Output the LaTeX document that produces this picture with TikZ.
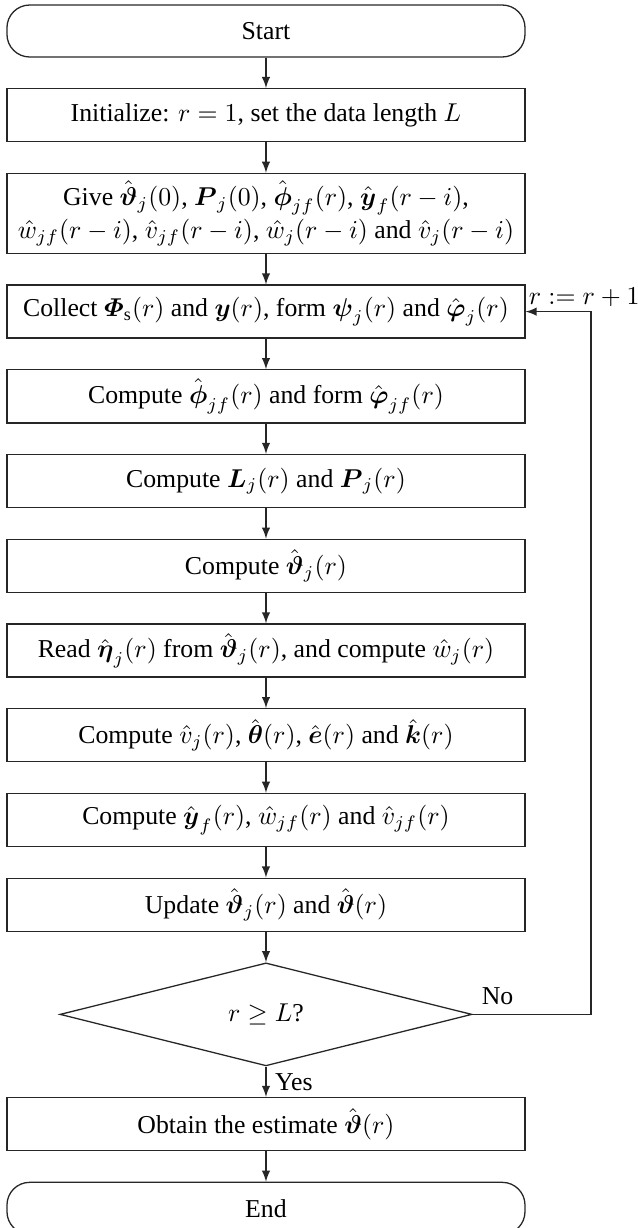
\documentclass[tikz,border=0pt]{standalone}
\usepackage{amsmath,amssymb}
\usepackage{fontspec}
\setmainfont{Liberation Serif}
\usetikzlibrary{shapes,shapes.geometric,arrows,positioning}

\begin{document}
\begin{tikzpicture}[
    node distance=0.415cm,
    line width=0.5pt,
    terminal/.style={rectangle, rounded corners=0.31cm, draw=black!85, minimum width=7.066cm, minimum height=0.709cm, inner sep=2pt},
    process/.style={rectangle, draw=black!85, minimum width=7.066cm, minimum height=0.723cm, inner sep=2pt, align=center},
    decision/.style={diamond, draw=black!85, minimum width=5.62cm, minimum height=1.405cm, inner sep=0pt},
    flow/.style={-latex, draw=black!85}
]
    \useasboundingbox (0,0) rectangle (8.689,-16.75);

    % Main chain of steps
    \node[terminal] (start) at (3.628,-0.423) {Start};
    \node[process, below=of start] (init) {Initialize: $r=1$, set the data length $L$};
    \node[process, below=of init, minimum height=1.091cm, inner ysep=1pt] (give) {
        Give $\hat{\boldsymbol{\vartheta}}_j(0)$, $\boldsymbol{P}_j(0)$, $\hat{\boldsymbol{\phi}}_{jf}(r)$, $\hat{\boldsymbol{y}}_f(r-i)$,\\[1pt]
        $\hat{w}_{jf}(r-i)$, $\hat{v}_{jf}(r-i)$, $\hat{w}_j(r-i)$ and $\hat{v}_j(r-i)$
    };
    \node[process, below=of give] (collect) {Collect $\boldsymbol{\varPhi}_{\mathrm{s}}(r)$ and $\boldsymbol{y}(r)$, form $\boldsymbol{\psi}_j(r)$ and $\hat{\boldsymbol{\varphi}}_j(r)$};
    \node[process, below=of collect] (phi) {Compute $\hat{\boldsymbol{\phi}}_{jf}(r)$ and form $\hat{\boldsymbol{\varphi}}_{jf}(r)$};
    \node[process, below=of phi] (gain) {Compute $\boldsymbol{L}_j(r)$ and $\boldsymbol{P}_j(r)$};
    \node[process, below=of gain] (theta) {Compute $\hat{\boldsymbol{\vartheta}}_j(r)$};
    \node[process, below=of theta] (read) {Read $\hat{\boldsymbol{\eta}}_j(r)$ from $\hat{\boldsymbol{\vartheta}}_j(r)$, and compute $\hat{w}_j(r)$};
    \node[process, below=of read] (noise) {Compute $\hat{v}_j(r)$, $\hat{\boldsymbol{\theta}}(r)$, $\hat{\boldsymbol{e}}(r)$ and $\hat{\boldsymbol{k}}(r)$};
    \node[process, below=of noise] (filt) {Compute $\hat{\boldsymbol{y}}_f(r)$, $\hat{w}_{jf}(r)$ and $\hat{v}_{jf}(r)$};
    \node[process, below=of filt] (update) {Update $\hat{\boldsymbol{\vartheta}}_j(r)$ and $\hat{\boldsymbol{\vartheta}}(r)$};
    \node[decision, below=of update] (check) {$r\geq L$?};
    \node[process, below=of check] (obtain) {Obtain the estimate $\hat{\boldsymbol{\vartheta}}(r)$};
    \node[terminal, below=of obtain] (stop) {End};

    % Arrows
    \draw[flow] (start) -- (init);
    \draw[flow] (init) -- (give);
    \draw[flow] (give) -- (collect);
    \draw[flow] (collect) -- (phi);
    \draw[flow] (phi) -- (gain);
    \draw[flow] (gain) -- (theta);
    \draw[flow] (theta) -- (read);
    \draw[flow] (read) -- (noise);
    \draw[flow] (noise) -- (filt);
    \draw[flow] (filt) -- (update);
    \draw[flow] (update) -- (check);
    \draw[flow] (check) -- node[right] (yes) {Yes} (obtain);
    \draw[flow] (obtain) -- (stop);

    % Loop back
    \coordinate (back) at (8.061,-8);
    \draw[flow] (check.east) -| (back) |- (collect.east);
    \node[anchor=south west] (no) at (check.east) {No};
    \node[anchor=north west, inner sep=1pt] (incr) at (collect.north east) {$r:=r+1$};
\end{tikzpicture}
\end{document}
